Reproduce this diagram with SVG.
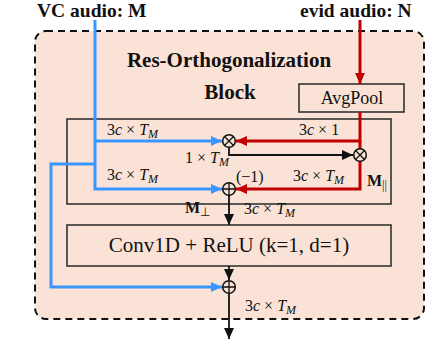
<svg xmlns="http://www.w3.org/2000/svg" width="444" height="347" viewBox="0 0 444 347">
<style>
.hd{font-family:"Liberation Serif",serif;font-weight:bold;fill:#111}
.tx{font-family:"Liberation Serif",serif;fill:#111}
.m{font-family:"Liberation Serif",serif;font-size:16px;fill:#111}
.i{font-style:italic}
.box{fill:none;stroke:#333;stroke-width:1.6}
.blue{fill:none;stroke:#3a96ff;stroke-width:3}
.red{fill:none;stroke:#c00000;stroke-width:3}
.blk{fill:none;stroke:#111;stroke-width:1.8}
.op{fill:#fae3d6;stroke:#111;stroke-width:1.5}
</style>
<defs>
<marker id="ab" markerUnits="userSpaceOnUse" markerWidth="12" markerHeight="10" refX="11" refY="5" orient="auto"><path d="M0,0 L11,5 L0,10 Z" fill="#3a96ff"/></marker>
<marker id="ar" markerUnits="userSpaceOnUse" markerWidth="12" markerHeight="10" refX="11" refY="5" orient="auto"><path d="M0,0 L11,5 L0,10 Z" fill="#c00000"/></marker>
<marker id="ak" markerUnits="userSpaceOnUse" markerWidth="12" markerHeight="10" refX="11" refY="5" orient="auto"><path d="M0,0 L11,5 L0,10 Z" fill="#111"/></marker>
</defs>
<rect id="block" x="35" y="31" width="389" height="288" rx="11" fill="#fae3d6" stroke="#111" stroke-width="2" stroke-dasharray="7,5"/>
<g id="labels">
<text class="hd" x="37" y="17" font-size="19.5">VC audio: M</text>
<text class="hd" x="300" y="17" font-size="19.5">evid audio: N</text>
<text class="hd" x="229" y="67" font-size="21" text-anchor="middle">Res-Orthogonalization</text>
<text class="hd" x="230" y="99" font-size="21" text-anchor="middle">Block</text>
</g>
<g id="inner"><rect class="box" x="67" y="119" width="324" height="85"/></g>
<g id="avgpool"><rect class="box" x="299" y="84" width="105" height="28" fill="#fae3d6"/><text class="tx" x="352" y="104" font-size="18" text-anchor="middle">AvgPool</text></g>
<g id="conv"><rect class="box" x="67" y="225" width="324" height="41"/><text class="tx" x="229" y="252" font-size="21" text-anchor="middle">Conv1D + ReLU (k=1, d=1)</text></g>
<g id="connectors">
<path class="blue" d="M95,20 V189 H222" marker-end="url(#ab)"/>
<path class="blue" d="M95,141 H222" marker-end="url(#ab)"/>
<path class="blue" d="M95,164 H51 V287 H222" marker-end="url(#ab)"/>
<path class="red" d="M360,20 V84" marker-end="url(#ar)"/>
<path class="red" d="M360,112 V141 H236" marker-end="url(#ar)"/>
<path class="red" d="M360,141 V189 H236" marker-end="url(#ar)"/>
<path class="blk" d="M229,147 V155 H353" marker-end="url(#ak)"/>
<path class="blk" d="M229,195 V225" marker-end="url(#ak)"/>
<path class="blk" d="M229,266 V280" marker-end="url(#ak)"/>
<path class="blk" d="M229,293 V339" marker-end="url(#ak)"/>
</g>
<g id="mul1"><circle class="op" cx="229" cy="141" r="6.3"/><path class="blk" style="stroke-width:1.3" d="M224.5,136.5 L233.5,145.5 M233.5,136.5 L224.5,145.5"/></g>
<g id="mul2"><circle class="op" cx="360" cy="155" r="6.3"/><path class="blk" style="stroke-width:1.3" d="M355.5,150.5 L364.5,159.5 M364.5,150.5 L355.5,159.5"/></g>
<g id="add1"><circle class="op" cx="229" cy="189" r="6.3"/><path class="blk" style="stroke-width:1.3" d="M222.7,189 H235.3 M229,182.7 V195.3"/></g>
<g id="add2"><circle class="op" cx="229" cy="287" r="6.3"/><path class="blk" style="stroke-width:1.3" d="M222.7,287 H235.3 M229,280.7 V293.3"/></g>
<g id="math">
<text class="m" x="107" y="135">3<tspan class="i">c</tspan> × <tspan class="i">T</tspan><tspan class="i" font-size="12" dy="3">M</tspan></text>
<text class="m" x="107" y="180">3<tspan class="i">c</tspan> × <tspan class="i">T</tspan><tspan class="i" font-size="12" dy="3">M</tspan></text>
<text class="m" x="299" y="135">3<tspan class="i">c</tspan> × 1</text>
<text class="m" x="185" y="163">1 × <tspan class="i">T</tspan><tspan class="i" font-size="12" dy="3">M</tspan></text>
<text class="m" x="236" y="182">(−1)</text>
<text class="m" x="293" y="181">3<tspan class="i">c</tspan> × <tspan class="i">T</tspan><tspan class="i" font-size="12" dy="3">M</tspan></text>
<text class="hd" x="367" y="186" font-size="16">M<tspan font-size="12" font-weight="normal" dy="3">||</tspan></text>
<text class="hd" x="185" y="213" font-size="16">M<tspan font-size="12" font-weight="normal" dy="3">⊥</tspan></text>
<text class="m" x="244" y="214">3<tspan class="i">c</tspan> × <tspan class="i">T</tspan><tspan class="i" font-size="12" dy="3">M</tspan></text>
<text class="m" x="245" y="311">3<tspan class="i">c</tspan> × <tspan class="i">T</tspan><tspan class="i" font-size="12" dy="3">M</tspan></text>
</g>
</svg>
